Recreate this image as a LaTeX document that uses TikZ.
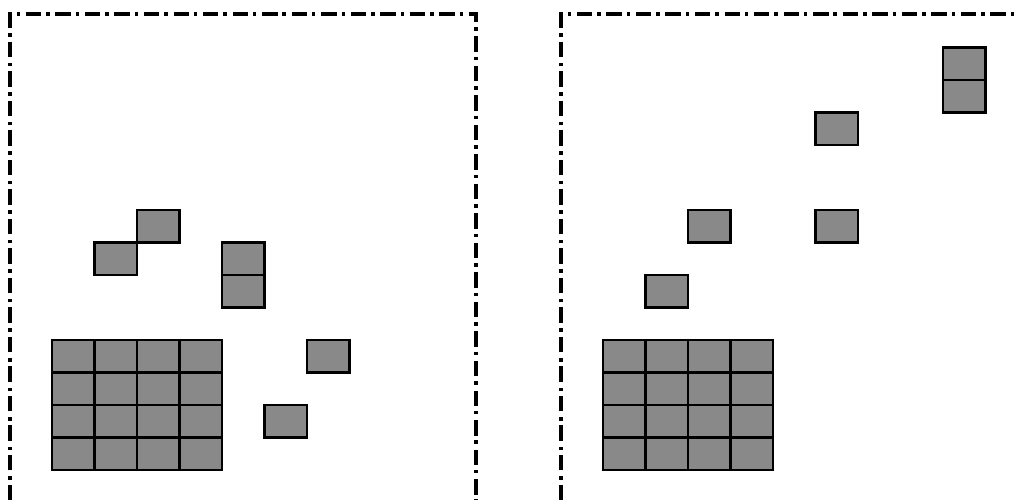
\documentclass[tikz,border=0pt]{standalone}
\usepackage{tikz}

\definecolor{cellgray}{RGB}{137,137,137}

\tikzset{
    cell/.style={fill=cellgray, draw=black, line width=1.7pt},
    frame/.style={line width=2.2pt, dash pattern=on 11pt off 3.5pt on 2.5pt off 4pt}
}

\begin{document}
\begin{tikzpicture}
    \useasboundingbox (0,0) rectangle (25.375,12.5);

    % Khung hai bên (nét gạch chấm)
    \draw[frame] (0.25,0) -- (0.25,12.15) -- (11.9,12.15) -- (11.9,0);
    \draw[frame] (14.025,0) -- (14.025,12.15) -- (25.375,12.15);

    % Khung trái
    \begin{scope}[shift={(1.3,4)}, x=1.0625cm, y=-0.8125cm]
        \foreach \c in {0,...,3} {
            \foreach \r in {0,...,3} {
                \draw[cell] (\c,\r) rectangle ++(1,1);
            }
        }
        \foreach \c/\r in {2/-4, 1/-3, 4/-3, 4/-2, 6/0, 5/2} {
            \draw[cell] (\c,\r) rectangle ++(1,1);
        }
    \end{scope}

    % Khung phải
    \begin{scope}[shift={(15.075,4)}, x=1.0625cm, y=-0.8125cm]
        \foreach \c in {0,...,3} {
            \foreach \r in {0,...,3} {
                \draw[cell] (\c,\r) rectangle ++(1,1);
            }
        }
        \foreach \c/\r in {1/-2, 2/-4, 5/-4, 5/-7, 8/-9, 8/-8} {
            \draw[cell] (\c,\r) rectangle ++(1,1);
        }
    \end{scope}

\end{tikzpicture}
\end{document}
